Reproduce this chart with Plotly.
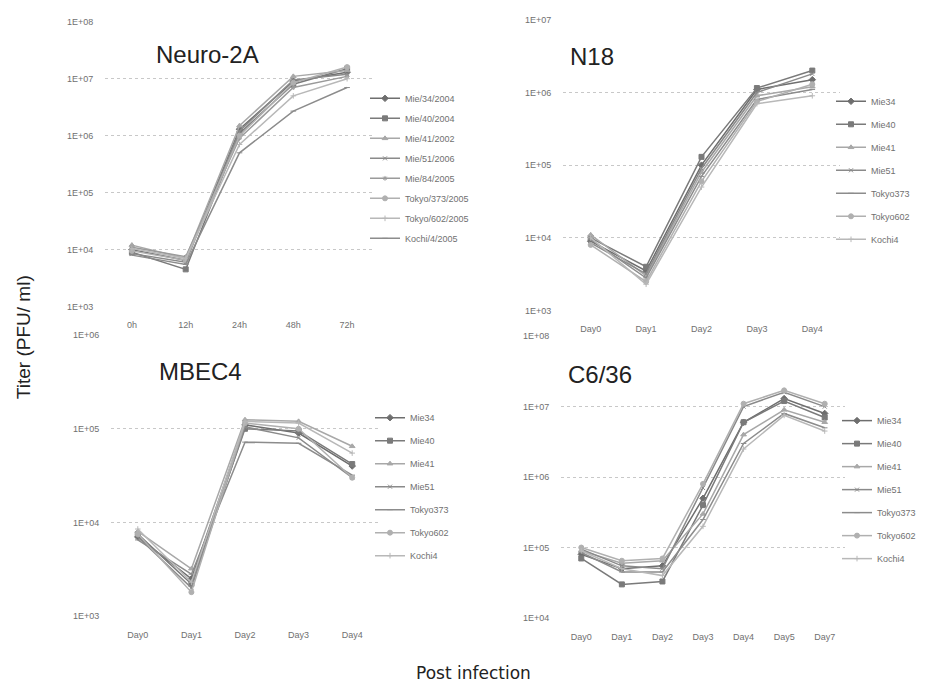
import plotly.graph_objects as go

W, H = 925, 692

# ---------------- data ----------------
neuro_x = ["0h", "12h", "24h", "48h", "72h"]
neuro_names = ["Mie/34/2004", "Mie/40/2004", "Mie/41/2002", "Mie/51/2006",
               "Mie/84/2005", "Tokyo/373/2005", "Tokyo/602/2005", "Kochi/4/2005"]
neuro_mie34 = [1.0e4, 6.5e3, 1.3e6, 9.0e6, 1.3e7]
neuro_mie40 = [9.0e3, 4.5e3, 1.1e6, 8.0e6, 1.5e7]
neuro_mie41 = [1.2e4, 7.0e3, 1.5e6, 1.1e7, 1.4e7]
neuro_mie51 = [8.5e3, 6.0e3, 1.2e6, 9.5e6, 1.2e7]
neuro_mie84 = [1.1e4, 7.5e3, 9.0e5, 7.0e6, 1.1e7]
neuro_tokyo373 = [9.5e3, 6.5e3, 1.0e6, 8.5e6, 1.6e7]
neuro_tokyo602 = [1.05e4, 7.0e3, 7.0e5, 5.0e6, 1.0e7]
neuro_kochi4 = [8.0e3, 5.5e3, 5.0e5, 2.7e6, 7.0e6]

n18_x = ["Day0", "Day1", "Day2", "Day3", "Day4"]
strain_names = ["Mie34", "Mie40", "Mie41", "Mie51", "Tokyo373", "Tokyo602", "Kochi4"]
n18_mie34 = [9.0e3, 3.5e3, 1.0e5, 1.1e6, 1.5e6]
n18_mie40 = [1.0e4, 4.0e3, 1.3e5, 1.15e6, 2.0e6]
n18_mie41 = [1.1e4, 3.0e3, 8.0e4, 9.0e5, 1.2e6]
n18_mie51 = [8.5e3, 3.2e3, 9.0e4, 1.0e6, 1.8e6]
n18_tokyo373 = [9.5e3, 2.8e3, 7.0e4, 8.0e5, 1.1e6]
n18_tokyo602 = [8.0e3, 2.5e3, 6.0e4, 7.5e5, 1.3e6]
n18_kochi4 = [1.0e4, 2.3e3, 5.0e4, 7.0e5, 9.0e5]

mbec_x = ["Day0", "Day1", "Day2", "Day3", "Day4"]
mbec_mie34 = [7.0e3, 2.5e3, 1.1e5, 9.0e4, 4.0e4]
mbec_mie40 = [7.5e3, 2.2e3, 1.0e5, 9.5e4, 4.2e4]
mbec_mie41 = [8.0e3, 3.2e3, 1.25e5, 1.2e5, 6.5e4]
mbec_mie51 = [7.0e3, 2.0e3, 1.05e5, 8.0e4, 3.0e4]
mbec_tokyo373 = [6.5e3, 2.8e3, 7.2e4, 7.0e4, 3.2e4]
mbec_tokyo602 = [7.5e3, 1.8e3, 1.15e5, 1.0e5, 3.0e4]
mbec_kochi4 = [8.5e3, 2.3e3, 1.2e5, 1.15e5, 5.5e4]

c636_x = ["Day0", "Day1", "Day2", "Day3", "Day4", "Day5", "Day7"]
c636_mie34 = [8.0e4, 5.0e4, 5.5e4, 5.0e5, 6.0e6, 1.3e7, 8.0e6]
c636_mie40 = [7.0e4, 3.0e4, 3.3e4, 4.0e5, 6.0e6, 1.2e7, 7.0e6]
c636_mie41 = [9.0e4, 6.0e4, 6.5e4, 3.0e5, 4.0e6, 9.0e6, 6.0e6]
c636_mie51 = [9.5e4, 5.5e4, 5.0e4, 7.0e5, 1.0e7, 1.6e7, 1.0e7]
c636_tokyo373 = [8.5e4, 4.5e4, 4.5e4, 2.5e5, 3.0e6, 8.0e6, 5.0e6]
c636_tokyo602 = [1.0e5, 6.5e4, 7.0e4, 8.0e5, 1.1e7, 1.7e7, 1.1e7]
c636_kochi4 = [9.0e4, 5.0e4, 4.0e4, 2.0e5, 2.5e6, 7.5e6, 4.5e6]

# ---------------- styles ----------------
styles8 = [
    dict(color="#6e6e6e", symbol="diamond", size=5),
    dict(color="#7a7a7a", symbol="square", size=5),
    dict(color="#a8a8a8", symbol="triangle-up", size=5),
    dict(color="#8a8a8a", symbol="x-thin", size=4),
    dict(color="#9a9a9a", symbol="asterisk", size=4),
    dict(color="#b0b0b0", symbol="circle", size=5),
    dict(color="#b8b8b8", symbol="cross-thin", size=4),
    dict(color="#8c8c8c", symbol="line-ew", size=4),
]
styles7 = [styles8[0], styles8[1], styles8[2], styles8[3], styles8[7], styles8[5], styles8[6]]


def px_x(p):
    return p / W


def px_y(p):
    return 1 - p / H


fig = go.Figure()

panels = [
    dict(xs=neuro_x, names=neuro_names,
         series=[neuro_mie34, neuro_mie40, neuro_mie41, neuro_mie51, neuro_mie84,
                 neuro_tokyo373, neuro_tokyo602, neuro_kochi4],
         styles=styles8, legend="legend", ax="", yr=[3, 8]),
    dict(xs=n18_x, names=strain_names,
         series=[n18_mie34, n18_mie40, n18_mie41, n18_mie51, n18_tokyo373, n18_tokyo602, n18_kochi4],
         styles=styles7, legend="legend2", ax="2", yr=[3, 7]),
    dict(xs=mbec_x, names=strain_names,
         series=[mbec_mie34, mbec_mie40, mbec_mie41, mbec_mie51, mbec_tokyo373, mbec_tokyo602, mbec_kochi4],
         styles=styles7, legend="legend3", ax="3", yr=[3, 6]),
    dict(xs=c636_x, names=strain_names,
         series=[c636_mie34, c636_mie40, c636_mie41, c636_mie51, c636_tokyo373, c636_tokyo602, c636_kochi4],
         styles=styles7, legend="legend4", ax="4", yr=[4, 8]),
]

for p in panels:
    for name, vals, st in zip(p["names"], p["series"], p["styles"]):
        fig.add_trace(go.Scatter(
            x=p["xs"], y=vals, name=name, mode="lines+markers",
            line=dict(color=st["color"], width=1.5),
            marker=dict(color=st["color"], symbol=st["symbol"], size=st["size"],
                        line=dict(color=st["color"], width=1)),
            xaxis="x" + p["ax"], yaxis="y" + p["ax"], legend=p["legend"],
            legendgroup=p["legend"] + name,
        ))

# axis geometry (pixels)
geo = {
    "": dict(x0=105, x1=374, ytop=17, ybot=306),
    "2": dict(x0=563, x1=840, ytop=15, ybot=310),
    "3": dict(x0=111, x1=379, ytop=335, ybot=620),
    "4": dict(x0=561, x1=845, ytop=336, ybot=622),
}

tick_font = dict(family="Liberation Sans, Arial, sans-serif", size=9, color="#707070")
layout = {}
for p in panels:
    g = geo[p["ax"]]
    lo, hi = p["yr"]
    tv = [10 ** e for e in range(lo, hi + 1)]
    tt = ["1E+%02d" % e for e in range(lo, hi + 1)]
    layout["xaxis" + p["ax"]] = dict(
        domain=[px_x(g["x0"]), px_x(g["x1"])], anchor="y" + p["ax"],
        type="category", range=[-0.5, len(p["xs"]) - 0.5],
        showgrid=False, zeroline=False, showline=False,
        tickfont=tick_font, ticks="outside", ticklen=10, tickcolor="rgba(0,0,0,0)",
        fixedrange=True,
    )
    layout["yaxis" + p["ax"]] = dict(
        domain=[px_y(g["ybot"]), px_y(g["ytop"])], anchor="x" + p["ax"],
        type="log", range=[lo, hi], tickvals=tv, ticktext=tt,
        showgrid=True, gridcolor="#c8c8c8", griddash="dot", gridwidth=1,
        zeroline=False, showline=False,
        tickfont=tick_font, ticks="outside", ticklen=9, tickcolor="rgba(0,0,0,0)",
        fixedrange=True,
    )

legend_font = dict(family="Liberation Sans, Arial, sans-serif", size=9, color="#707070")


def leg(xpx, ypx, gap):
    return dict(x=px_x(xpx), y=px_y(ypx), xanchor="left", yanchor="top",
                font=legend_font, bgcolor="rgba(0,0,0,0)", itemwidth=30,
                tracegroupgap=gap, traceorder="grouped")


layout["legend"] = leg(365, 80, 1)
layout["legend2"] = leg(831, 83, 4)
layout["legend3"] = leg(370, 404, 4)
layout["legend4"] = leg(837, 407, 4)

title_font = dict(family="Liberation Sans, Arial, sans-serif", size=24, color="#222222")
ann = [
    dict(text="Neuro-2A", x=px_x(207), y=px_y(50)),
    dict(text="N18", x=px_x(592), y=px_y(52)),
    dict(text="MBEC4", x=px_x(200), y=px_y(372)),
    dict(text="C6/36", x=px_x(600), y=px_y(375)),
]
annotations = [dict(a, xref="paper", yref="paper", showarrow=False, font=title_font,
                    xanchor="center", yanchor="middle") for a in ann]
annotations.append(dict(text="Titer (PFU/ ml)", x=px_x(23), y=px_y(337), xref="paper", yref="paper",
                        showarrow=False, textangle=-90, xanchor="center", yanchor="middle",
                        font=dict(family="Liberation Sans, Arial, sans-serif", size=19, color="#222222")))
annotations.append(dict(text="Post infection", x=px_x(473), y=px_y(678), xref="paper", yref="paper",
                        showarrow=False, xanchor="center", yanchor="middle",
                        font=dict(family="DejaVu Sans, Open Sans, sans-serif", size=17, color="#222222")))

fig.update_layout(
    width=W, height=H, margin=dict(l=0, r=0, t=0, b=0),
    paper_bgcolor="white", plot_bgcolor="white",
    showlegend=True, annotations=annotations, **layout,
)

# remove the browser's default 8px body margin so the figure fills the window exactly
fig.write_html("out.html", config={"displayModeBar": False},
               post_script="document.body.style.margin='0';")
